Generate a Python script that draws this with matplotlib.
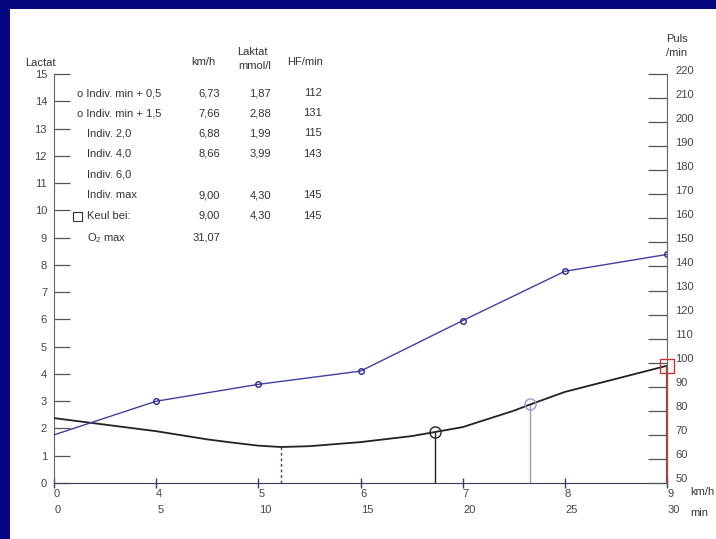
import numpy as np
import matplotlib
matplotlib.use("Agg")
import matplotlib.pyplot as plt
from matplotlib.patches import Rectangle
from matplotlib.transforms import ScaledTranslation

plt.rcParams['font.family'] = ['Liberation Sans', 'DejaVu Sans']
plt.rcParams['font.size'] = 8
plt.rcParams['mathtext.fontset'] = 'custom'
plt.rcParams['mathtext.rm'] = 'Liberation Sans'

# Stufenprotokoll: Minute -> km/h
stage_min = [0, 5, 10, 15, 20, 25, 30]
stage_kmh = [0, 4, 5, 6, 7, 8, 9]

# Herzfrequenz (rechte Achse)
hf_min = [0, 5, 10, 15, 20, 25, 30]
hf_val = [70, 84, 91, 96.5, 117.5, 138, 145]

# Laktatkurve
lac_min = [0, 2.5, 5, 7.5, 8.75, 10, 11.1, 12.5, 15, 17.5, 18.65, 20, 22.5, 23.3, 25, 27.5, 30]
lac_val = [2.38, 2.14, 1.9, 1.6, 1.48, 1.37, 1.32, 1.35, 1.5, 1.72, 1.87, 2.05, 2.65, 2.88, 3.34, 3.82, 4.3]

# Schwellen (km/h, Laktat)
indiv_min = (5.22, 1.32)
indiv_05 = (6.73, 1.87)
indiv_15 = (7.66, 2.88)
keul = (9.00, 4.30)

# Tabelle oben links
row_labels = ["o Indiv. min + 0,5", "o Indiv. min + 1,5", "Indiv. 2,0", "Indiv. 4,0",
              "Indiv. 6,0", "Indiv. max", "Keul bei:", "$\\mathregular{O_2}$ max"]
row_kmh = ["6,73", "7,66", "6,88", "8,66", "", "9,00", "9,00", "31,07"]
row_lac = ["1,87", "2,88", "1,99", "3,99", "", "4,30", "4,30", ""]
row_hf = ["112", "131", "115", "143", "", "145", "145", ""]

W, H = 716, 539
TXT = '#333333'


def px(x, y):
    return x / W, 1 - y / H


def kmh_to_min(v):
    return np.interp(v, stage_kmh, stage_min)


fig = plt.figure(figsize=(W / 100, H / 100), dpi=100, facecolor='#05057f')
fig.add_artist(Rectangle((10 / W, 0), (W - 10) / W, (H - 9) / H, transform=fig.transFigure,
                         facecolor='white', edgecolor='none', zorder=-1))

ax = fig.add_axes([54 / W, 56 / H, 613 / W, 409 / H])
ax.set_facecolor('none')
ax.set_xlim(0, 30)
ax.set_ylim(0, 15)
ax2 = ax.twinx()
ax2.set_ylim(50, 220)

for s in ['top', 'right']:
    ax.spines[s].set_visible(False)
ax.spines['left'].set_color('#666666')
ax.spines['bottom'].set_color('#3a3a5a')
for s in ['top', 'left', 'bottom']:
    ax2.spines[s].set_visible(False)
ax2.spines['right'].set_color('#666666')

ax.set_yticks(range(0, 16))
ax.tick_params(axis='y', direction='in', length=11.5, width=0.9, color='#555555',
               pad=5, labelcolor='#444444')
ax2.set_yticks(range(50, 221, 10))
ax2.tick_params(axis='y', direction='in', length=13.5, width=0.9, color='#555555',
                pad=6, labelcolor='#444444')
# rechte Beschriftung sitzt im Original etwas oberhalb der Striche
shift = ScaledTranslation(0, 0.045, fig.dpi_scale_trans)
for lbl in ax2.get_yticklabels():
    lbl.set_transform(lbl.get_transform() + shift)

ax.set_xticks(stage_min)
ax.set_xticklabels([str(v) for v in stage_kmh])
ax.tick_params(axis='x', direction='inout', length=7, width=1.0, color='#3a3a7a',
               pad=1, labelcolor='#444444')
for lbl in ax.get_xticklabels():
    lbl.set_horizontalalignment('left')
for m in stage_min:
    ax.text(m + 0.05, -0.066, str(m), transform=ax.get_xaxis_transform(),
            ha='left', va='center', color='#444444')

# Laktatkurve
ax.plot(lac_min, lac_val, color='#222222', lw=1.3, zorder=3)

# Herzfrequenz
ax2.plot(hf_min, hf_val, color='#4040a0', lw=1.0)
ax2.plot(hf_min[1:], hf_val[1:], 'o', ms=4, mfc='none', mec='#2a2a90', mew=1.0)

# Schwellen
t = kmh_to_min(indiv_min[0])
ax.vlines(t, 0, indiv_min[1], colors='#3a3a8a', linestyles=(0, (2, 2)), lw=1.0)
t = kmh_to_min(indiv_05[0])
ax.vlines(t, 0, indiv_05[1], colors='#222222', lw=1.0)
ax.plot(t, indiv_05[1], 'o', ms=8, mfc='none', mec='#222222', mew=1.0, zorder=4)
t = kmh_to_min(indiv_15[0])
ax.vlines(t, 0, indiv_15[1], colors='#9a9ac8', lw=1.0)
ax.plot(t, indiv_15[1], 'o', ms=8, mfc='none', mec='#9a9ac8', mew=1.0, zorder=4)
t = kmh_to_min(keul[0])
ax.vlines(t, 0, keul[1], colors='#cc3333', lw=1.6, clip_on=False, zorder=5)
ax.plot(t, keul[1], 's', ms=10, mfc='none', mec='#cc3333', mew=1.0, clip_on=False, zorder=5)

# Achsentitel
fig.text(*px(25, 63), "Lactat", ha='left', va='center', color=TXT)
fig.text(*px(677, 39), "Puls", ha='center', va='center', color=TXT)
fig.text(*px(677, 53), "/min", ha='center', va='center', color=TXT)
fig.text(*px(690, 492), "km/h", ha='left', va='center', color=TXT)
fig.text(*px(690, 513), "min", ha='left', va='center', color=TXT)

# Tabellenkopf
fig.text(*px(203, 62), "km/h", ha='center', va='center', color=TXT)
fig.text(*px(252, 52), "Laktat", ha='center', va='center', color=TXT)
fig.text(*px(255, 66), "mmol/l", ha='center', va='center', color=TXT)
fig.text(*px(305, 62), "HF/min", ha='center', va='center', color=TXT)

row_y = [93, 113, 133, 154, 174, 195, 216, 238]
for i, y in enumerate(row_y):
    x0 = 77 if row_labels[i].startswith("o ") else 87
    fig.text(*px(x0, y), row_labels[i], ha='left', va='center', color=TXT)
    yv = y - 1 if i == 7 else y
    fig.text(*px(220, yv), row_kmh[i], ha='right', va='center', color=TXT)
    fig.text(*px(271, y), row_lac[i], ha='right', va='center', color=TXT)
    fig.text(*px(322, y), row_hf[i], ha='right', va='center', color=TXT)

fig.add_artist(Rectangle(px(73, 221), 9 / W, 9 / H, transform=fig.transFigure,
                         facecolor='none', edgecolor=TXT, lw=0.8))

fig.savefig("out.png", dpi=100, facecolor=fig.get_facecolor())
